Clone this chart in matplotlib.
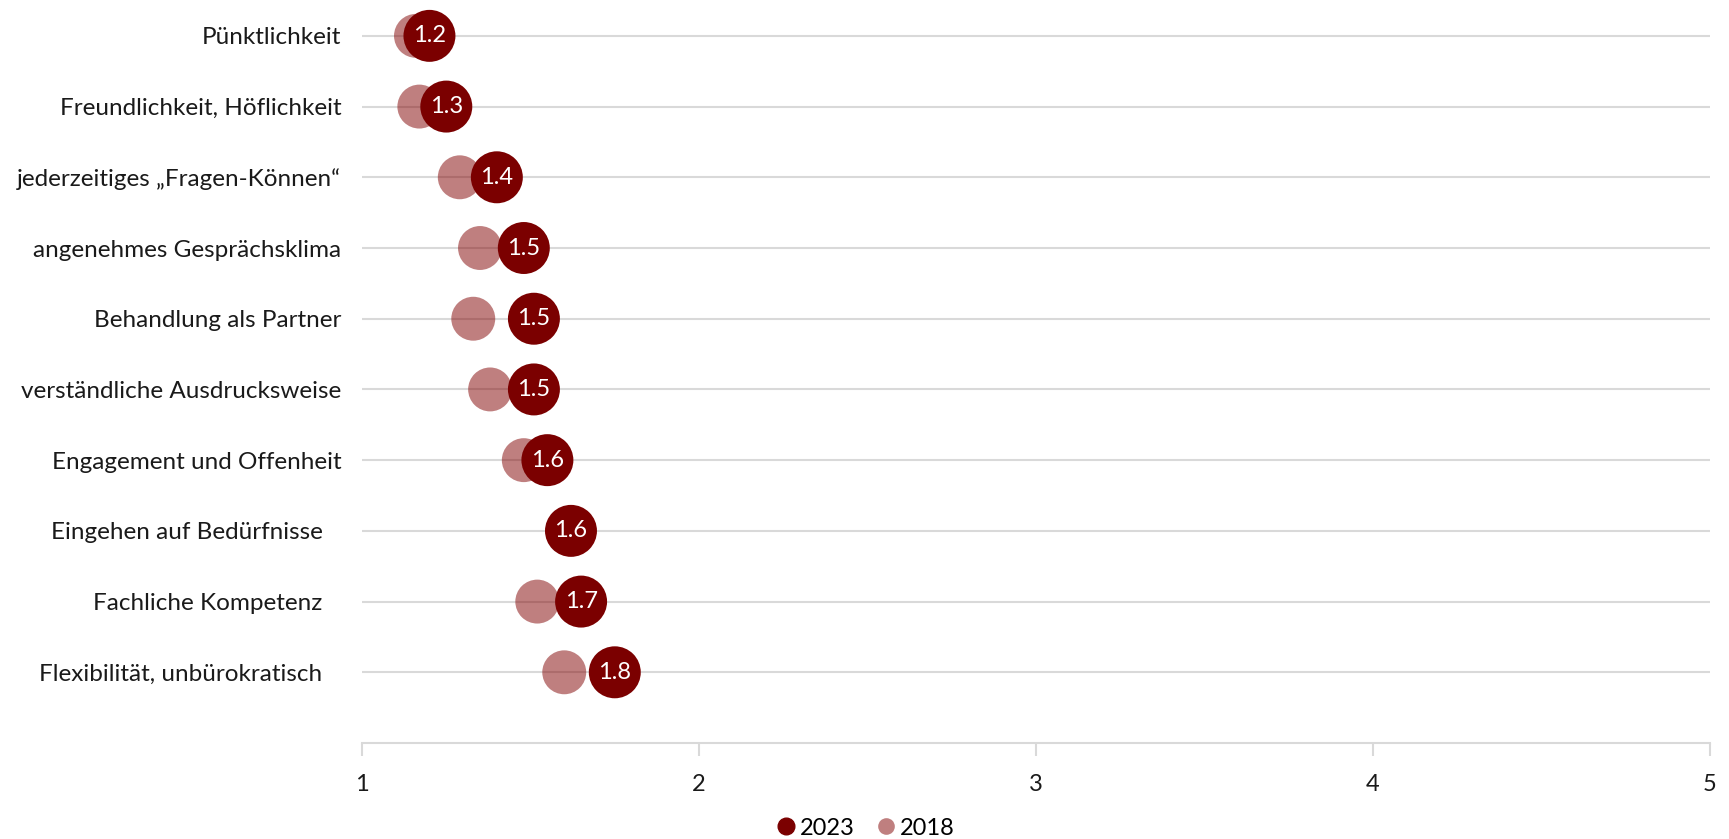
import matplotlib
matplotlib.use("Agg")
import matplotlib.pyplot as plt
from matplotlib.lines import Line2D

plt.rcParams["font.family"] = ["Lato", "DejaVu Sans"]

# -------------------------
# Data
# -------------------------
categories = [
    "Pünktlichkeit",
    "Freundlichkeit, Höflichkeit",
    "jederzeitiges „Fragen-Können“",
    "angenehmes Gesprächsklima",
    "Behandlung als Partner",
    "verständliche Ausdrucksweise",
    "Engagement und Offenheit",
    "Eingehen auf Bedürfnisse   ",
    "Fachliche Kompetenz   ",
    "Flexibilität, unbürokratisch   ",
]
values_2023 = [1.20, 1.25, 1.40, 1.48, 1.51, 1.51, 1.55, 1.62, 1.65, 1.75]
values_2018 = [1.16, 1.17, 1.29, 1.35, 1.33, 1.38, 1.48, 1.62, 1.52, 1.60]
labels_2023 = ["1.2", "1.3", "1.4", "1.5", "1.5", "1.5", "1.6", "1.6", "1.7", "1.8"]
x_ticks = [1, 2, 3, 4, 5]

dark = "#7B0000"
light = "#800000"
grid_col = "#D9D9D9"
text_col = "#1A1A1A"

fig = plt.figure(figsize=(17.29, 8.39), dpi=100)
ax = fig.add_axes([0.2094, 0.1144, 0.7796, 0.885])

y = list(range(len(categories)))

# grid lines per category
for yi in y:
    ax.axhline(yi, color=grid_col, linewidth=1.5, zorder=1)

ax.scatter(values_2018, y, s=1000, color=light, alpha=0.5,
           edgecolors="none", zorder=2)
ax.scatter(values_2023, y, s=1400, color=dark,
           edgecolors="none", zorder=3)

for xv, yi, lab in zip(values_2023, y, labels_2023):
    ax.text(xv, yi, lab, color="white", fontsize=17,
            ha="center", va="center", zorder=4)

ax.set_xlim(1, 5)
ax.set_ylim(10, -0.5)
ax.set_xticks(x_ticks)
ax.set_xticklabels([str(t) for t in x_ticks])
ax.set_yticks(y)
ax.set_yticklabels(categories)

for side in ["top", "right", "left"]:
    ax.spines[side].set_visible(False)
ax.spines["bottom"].set_color(grid_col)
ax.spines["bottom"].set_linewidth(1.5)

ax.tick_params(axis="x", colors=grid_col, length=9, width=1.5,
               labelcolor=text_col, labelsize=17, pad=13)
ax.tick_params(axis="y", length=0, labelcolor=text_col, labelsize=17.5, pad=15)

handles = [
    Line2D([], [], marker="o", linestyle="none", color=dark,
           markersize=12, label="2023"),
    Line2D([], [], marker="o", linestyle="none", color=light, alpha=0.5,
           markeredgewidth=0, markersize=12, label="2018"),
]
fig.legend(handles=handles, loc="center", bbox_to_anchor=(0.5, 0.013),
           ncol=2, frameon=False, fontsize=17, handletextpad=0.1,
           columnspacing=0.8, handlelength=1.0)

fig.savefig("out.png", dpi=100)
